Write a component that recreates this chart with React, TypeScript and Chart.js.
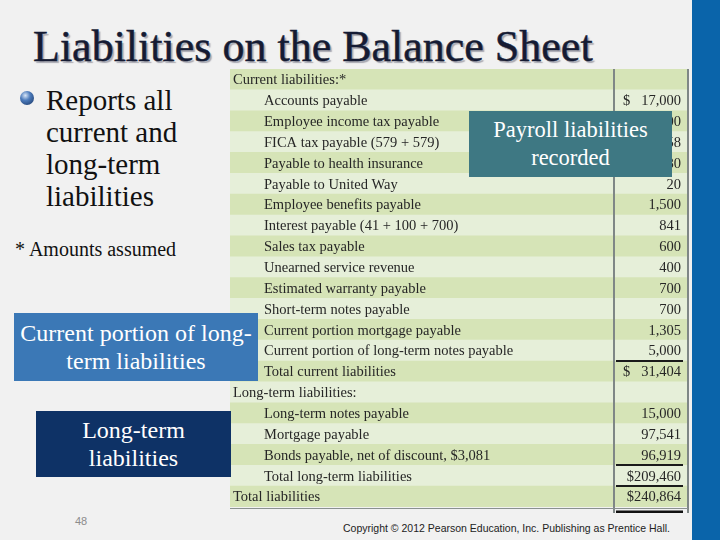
import React, { useEffect, useRef } from "react";
import { Chart, registerables } from "chart.js";

Chart.register(...registerables);

// ---- data ----
const rowLabels = [
  "Current liabilities:*",
  "Accounts payable",
  "Employee income tax payable",
  "FICA tax payable (579 + 579)",
  "Payable to health insurance",
  "Payable to United Way",
  "Employee benefits payable",
  "Interest payable (41 + 100 + 700)",
  "Sales tax payable",
  "Unearned service revenue",
  "Estimated warranty payable",
  "Short-term notes payable",
  "Current portion mortgage payable",
  "Current portion of long-term notes payable",
  "Total current liabilities",
  "Long-term liabilities:",
  "Long-term notes payable",
  "Mortgage payable",
  "Bonds payable, net of discount, $3,081",
  "Total long-term liabilities",
  "Total liabilities",
];
const rowLevels = [0, 1, 1, 1, 1, 1, 1, 1, 1, 1, 1, 1, 1, 1, 1, 0, 1, 1, 1, 1, 0];
const amounts: (number | null)[] = [
  null, 17000, 1200, 1158, 980, 20, 1500, 841, 600, 400, 700, 700, 1305, 5000, 31404,
  null, 15000, 97541, 96919, 209460, 240864,
];
const dollarRows = [1, 14, 19, 20];
const totalRows = [14, 19, 20];

const bulletLines = ["Reports all", "current and", "long-term", "liabilities"];

const STRIPE_DARK = "#d6e4b7";
const STRIPE_LIGHT = "#e6efd9";

const tablePlugin = {
  id: "tableText",
  afterDatasetsDraw(chart: any) {
    const ctx = chart.ctx as CanvasRenderingContext2D;
    const meta = chart.getDatasetMeta(0);
    const area = chart.chartArea;
    const colX = area.left + 384;
    const rightX = area.left + 451;
    ctx.save();
    ctx.font = "14.5px 'Liberation Serif', serif";
    ctx.fillStyle = "#262626";
    ctx.textBaseline = "middle";
    meta.data.forEach((bar: any, i: number) => {
      const y = bar.y + 1;
      ctx.textAlign = "left";
      ctx.fillText(rowLabels[i], area.left + (rowLevels[i] ? 34 : 3), y);
      const v = amounts[i];
      if (v !== null && v !== undefined) {
        const s = v.toLocaleString("en-US");
        ctx.textAlign = "right";
        if (dollarRows.includes(i)) {
          if (v >= 100000) {
            ctx.fillText("$" + s, rightX, y);
          } else {
            ctx.fillText(s, rightX, y);
            ctx.textAlign = "left";
            ctx.fillText("$", colX + 9, y);
          }
        } else {
          ctx.fillText(s, rightX, y);
        }
      }
    });
    // vertical column rules
    ctx.strokeStyle = "#7f8786";
    ctx.lineWidth = 2;
    ctx.beginPath();
    ctx.moveTo(colX, area.top);
    ctx.lineTo(colX, chart.height);
    ctx.moveTo(area.right, area.top);
    ctx.lineTo(area.right, chart.height);
    ctx.stroke();
    // total underlines
    ctx.strokeStyle = "#1a1a1a";
    ctx.lineWidth = 2;
    ctx.beginPath();
    totalRows.forEach((r) => {
      const b = meta.data[r];
      const top = Math.round(b.y - b.height / 2);
      ctx.moveTo(colX + 2, top);
      ctx.lineTo(rightX + 2, top);
    });
    ctx.stroke();
    // bottom rules
    const last = meta.data[meta.data.length - 1];
    const bottom = last.y + last.height / 2;
    ctx.strokeStyle = "#8a9190";
    ctx.lineWidth = 1;
    ctx.beginPath();
    ctx.moveTo(area.left, bottom + 1.5);
    ctx.lineTo(area.right, bottom + 1.5);
    ctx.stroke();
    ctx.strokeStyle = "#111";
    ctx.lineWidth = 3;
    ctx.beginPath();
    ctx.moveTo(colX + 2, bottom + 5);
    ctx.lineTo(rightX + 2, bottom + 5);
    ctx.stroke();
    ctx.restore();
  },
};

function TableChart() {
  const ref = useRef<HTMLCanvasElement>(null);
  useEffect(() => {
    if (!ref.current) return;
    const chart = new Chart(ref.current, {
      type: "bar",
      data: {
        labels: rowLabels,
        datasets: [
          {
            data: rowLabels.map(() => [0, 1]) as any,
            backgroundColor: (c: any) => (c.dataIndex % 2 === 0 ? STRIPE_DARK : STRIPE_LIGHT),
            borderWidth: 0,
            barPercentage: 1,
            categoryPercentage: 1,
          },
        ],
      },
      options: {
        indexAxis: "y",
        responsive: false,
        animation: false,
        layout: { padding: { left: 0, right: 4, top: 0, bottom: 6 } },
        plugins: { legend: { display: false }, tooltip: { enabled: false } },
        scales: {
          x: { display: false, min: 0, max: 1 },
          y: { display: false, grid: { display: false } },
        },
      },
      plugins: [tablePlugin],
    });
    return () => chart.destroy();
  }, []);
  return (
    <canvas
      ref={ref}
      width={462}
      height={444}
      style={{ position: "absolute", left: 230, top: 69, width: 462, height: 444 }}
    />
  );
}

const serif = "'Liberation Serif', 'Times New Roman', serif";

export default function App() {
  return (
    <div
      style={{
        position: "absolute",
        left: 0,
        top: 0,
        width: 720,
        height: 540,
        background: "#f1f1f1",
        overflow: "hidden",
        fontFamily: serif,
      }}
    >
      <div
        style={{
          position: "absolute",
          left: 33,
          top: 25,
          fontSize: 44,
          lineHeight: "44px",
          color: "#151b33",
          whiteSpace: "nowrap",
          WebkitTextStroke: "0.5px #151b33",
          textShadow: "2px 2px 1px rgba(110,110,125,0.55)",
          fontFamily: serif,
        }}
      >
        Liabilities on the Balance Sheet
      </div>
      <div
        style={{
          position: "absolute",
          left: 692,
          top: 0,
          width: 28,
          height: 540,
          background: "#0a64aa",
        }}
      />
      <div
        style={{
          position: "absolute",
          left: 20,
          top: 91,
          width: 14,
          height: 14,
          borderRadius: "50%",
          background: "radial-gradient(circle at 38% 32%, #d8e6f7 0%, #4d7cbc 38%, #14315f 100%)",
        }}
      />
      <div
        style={{
          position: "absolute",
          left: 46,
          top: 84,
          fontSize: 29,
          lineHeight: "32px",
          color: "#111",
          fontFamily: serif,
        }}
      >
        {bulletLines.map((l) => (
          <div key={l}>{l}</div>
        ))}
      </div>
      <div
        style={{
          position: "absolute",
          left: 15,
          top: 237,
          fontSize: 20,
          lineHeight: "24px",
          color: "#111",
          whiteSpace: "nowrap",
          fontFamily: serif,
        }}
      >
        * Amounts assumed
      </div>
      <TableChart />
      <div
        style={{
          position: "absolute",
          left: 469,
          top: 111,
          width: 203,
          height: 66,
          background: "#3e7883",
          color: "#fff",
          fontSize: 22.5,
          lineHeight: "28px",
          display: "flex",
          alignItems: "center",
          justifyContent: "center",
          textAlign: "center",
          fontFamily: serif,
        }}
      >
        Payroll liabilities
        <br />
        recorded
      </div>
      <div
        style={{
          position: "absolute",
          left: 14,
          top: 313,
          width: 244,
          height: 68,
          background: "#3b78b6",
          color: "#fff",
          fontSize: 24,
          lineHeight: "28px",
          display: "flex",
          alignItems: "center",
          justifyContent: "center",
          textAlign: "center",
          fontFamily: serif,
        }}
      >
        Current portion of long-
        <br />
        term liabilities
      </div>
      <div
        style={{
          position: "absolute",
          left: 36,
          top: 411,
          width: 195,
          height: 66,
          background: "#0e3266",
          color: "#fff",
          fontSize: 24,
          lineHeight: "28px",
          display: "flex",
          alignItems: "center",
          justifyContent: "center",
          textAlign: "center",
          fontFamily: serif,
        }}
      >
        Long-term
        <br />
        liabilities
      </div>
      <div
        style={{
          position: "absolute",
          left: 75,
          top: 514,
          fontSize: 11,
          lineHeight: "14px",
          color: "#8c8c8c",
          fontFamily: "'Liberation Sans', sans-serif",
        }}
      >
        48
      </div>
      <div
        style={{
          position: "absolute",
          left: 343,
          top: 521,
          fontSize: 10.5,
          lineHeight: "14px",
          color: "#222",
          whiteSpace: "nowrap",
          fontFamily: "'Liberation Sans', sans-serif",
        }}
      >
        Copyright © 2012 Pearson Education, Inc. Publishing as Prentice Hall.
      </div>
    </div>
  );
}
